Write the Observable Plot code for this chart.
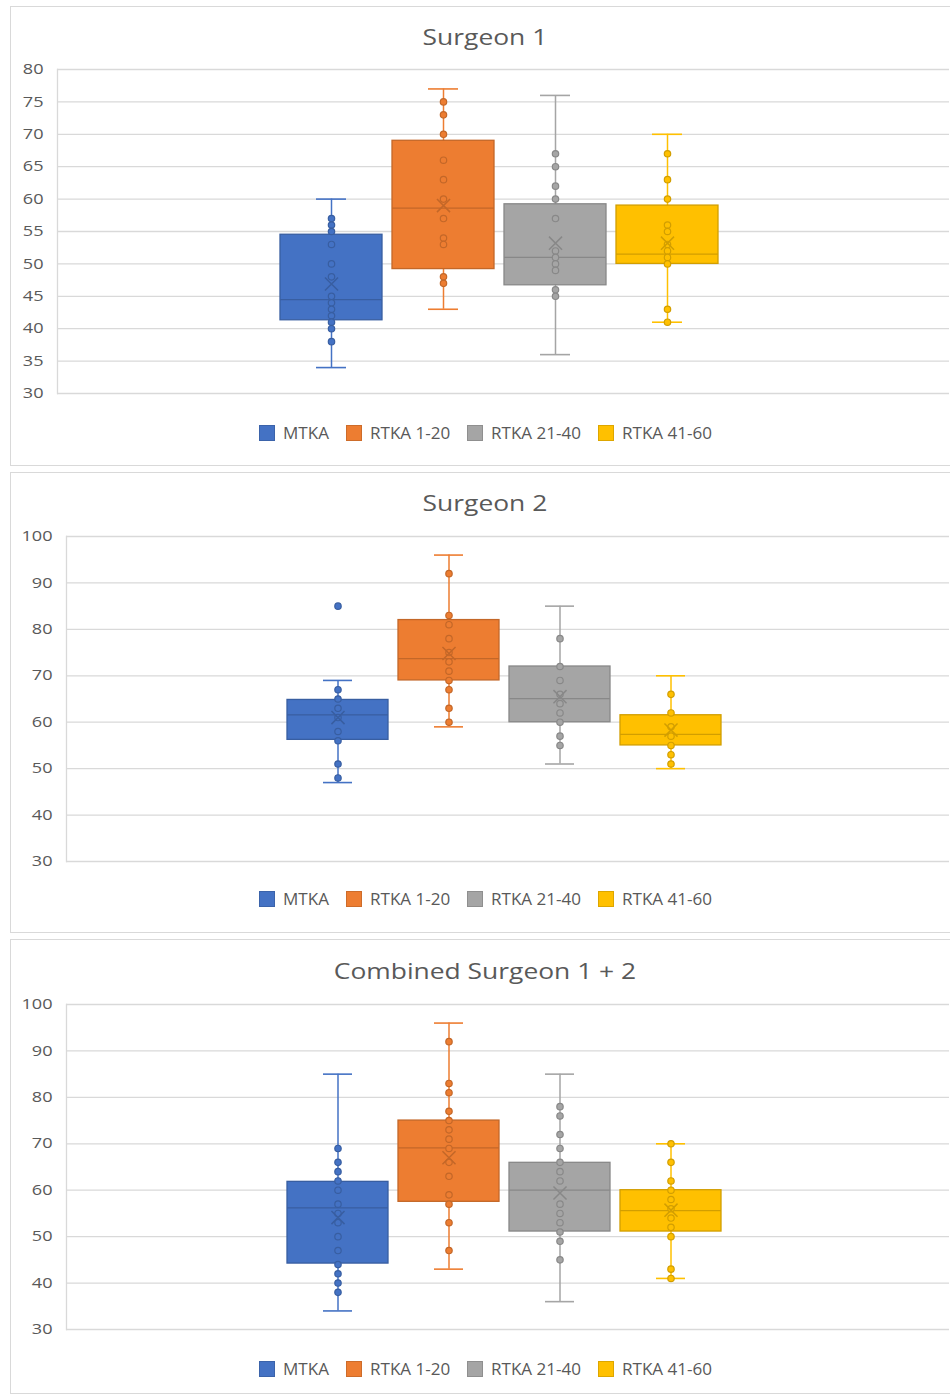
<!DOCTYPE html>
<html>
<head>
<meta charset="utf-8">
<script src="https://cdn.jsdelivr.net/npm/d3@7"></script>
<script src="https://cdn.jsdelivr.net/npm/@observablehq/plot@0.6"></script>
<style>
  html, body { margin: 0; padding: 0; }
  body { width: 950px; height: 1395px; overflow: hidden; background: #fff; position: relative;
         font-family: "Open Sans", "Noto Sans", sans-serif; color: #595959; }
  .border { position: absolute; left: 10px; width: 960px; border: 1.5px solid #d9d9d9; box-sizing: border-box; }
  .title { position: absolute; left: 0; width: 970px; text-align: center; font-size: 22px; line-height: 30px; }
  .title span { display: inline-block; transform: scaleX(1.2); }
  .chart { position: absolute; left: 11px; }
  .legend { position: absolute; left: 0; width: 971px; height: 20px; display: flex; justify-content: center;
            align-items: center; font-size: 15.5px; white-space: nowrap; }
  .legend .item { display: flex; align-items: center; margin-right: 17px; }
  .legend .item:last-child { margin-right: 0; }
  .legend .sw { width: 14px; height: 14px; border: 1px solid; margin-right: 8px; }
  .legend .tx { display: inline-block; }
  .legend .tx span { display: inline-block; transform: scaleX(1.1); transform-origin: 0 50%; }
</style>
</head>
<body>
<script>
// ---------- data ----------
const series = ["MTKA", "RTKA 1-20", "RTKA 21-40", "RTKA 41-60"];
const colors = ["#4472C4", "#ED7D31", "#A5A5A5", "#FFC000"];
const titles = ["Surgeon 1", "Surgeon 2", "Combined Surgeon 1 + 2"];

const s1Ticks = [30, 35, 40, 45, 50, 55, 60, 65, 70, 75, 80];
const s2Ticks = [30, 40, 50, 60, 70, 80, 90, 100];
const s3Ticks = [30, 40, 50, 60, 70, 80, 90, 100];

// Surgeon 1
const s1Min    = [34, 43, 36, 41];
const s1Q1     = [41.3, 49.2, 46.7, 50];
const s1Median = [44.5, 58.6, 51, 51.5];
const s1Q3     = [54.5, 69, 59.2, 59];
const s1Max    = [60, 77, 76, 70];
const s1Mean   = [46.9, 59.0, 53.2, 53.2];
const s1Points = [
  [57, 56, 55, 53, 50, 48, 45, 44, 43, 42, 41, 40, 38],
  [75, 73, 70, 66, 63, 60, 57, 54, 53, 48, 47],
  [67, 65, 62, 60, 57, 52, 51, 50, 49, 46, 45],
  [67, 63, 60, 56, 55, 53, 52, 51, 50, 43, 41]
];
const s1Outliers = [[], [], [], []];

// Surgeon 2
const s2Min    = [47, 59, 51, 50];
const s2Q1     = [56.2, 69, 60, 55];
const s2Median = [61.6, 73.7, 65.1, 57.4];
const s2Q3     = [64.8, 82, 72, 61.5];
const s2Max    = [69, 96, 85, 70];
const s2Mean   = [61, 74.8, 65.5, 58.3];
const s2Points = [
  [67, 65, 63, 61, 58, 56, 51, 48],
  [92, 83, 81, 78, 75, 73, 71, 69, 67, 63, 60],
  [78, 72, 69, 66, 64, 62, 60, 57, 55],
  [66, 62, 59, 57, 55, 53, 51]
];
const s2Outliers = [[85], [], [], []];

// Combined
const s3Min    = [34, 43, 36, 41];
const s3Q1     = [44.2, 57.5, 51.1, 51.1];
const s3Median = [56.2, 69.1, 60, 55.6];
const s3Q3     = [61.8, 75, 65.9, 60];
const s3Max    = [85, 96, 85, 70];
const s3Mean   = [54.1, 67, 59.4, 55.7];
const s3Points = [
  [69, 66, 64, 62, 60, 57, 55, 53, 50, 47, 44, 42, 40, 38],
  [92, 83, 81, 77, 75, 73, 71, 69, 66, 63, 59, 57, 53, 47],
  [78, 76, 72, 69, 66, 64, 62, 57, 55, 53, 51, 49, 45],
  [70, 66, 62, 60, 58, 56, 54, 52, 50, 43, 41]
];
const s3Outliers = [[], [], [], []];

// ---------- drawing ----------
function boxChart(cfg) {
  const rows = series.map((s, i) => ({
    s, min: cfg.min[i], q1: cfg.q1[i], median: cfg.median[i],
    q3: cfg.q3[i], max: cfg.max[i], mean: cfg.mean[i]
  }));
  const marks = [
    Plot.ruleY(cfg.ticks, {stroke: "#d9d9d9", strokeWidth: 1.3}),
    Plot.frame({anchor: "left", stroke: "#d9d9d9", strokeWidth: 1.3}),
    Plot.axisY(cfg.ticks, {tickSize: 0, tickPadding: 14, label: null})
  ];
  series.forEach((s, i) => {
    const c = colors[i];
    const dk = d3.color(c).darker(0.55).formatHex();
    const r = rows.filter(d => d.s === s);
    const pts = cfg.points[i].map(v => ({s, v}));
    const out = cfg.outliers[i].map(v => ({s, v}));
    marks.push(
      Plot.ruleX(r, {x: "s", y1: "min", y2: "max", stroke: c, strokeWidth: 1.5}),
      Plot.tickY(r, {x: "s", y: "min", stroke: c, strokeWidth: 1.6, insetLeft: 41, insetRight: 41}),
      Plot.tickY(r, {x: "s", y: "max", stroke: c, strokeWidth: 1.6, insetLeft: 41, insetRight: 41}),
      Plot.barY(r, {x: "s", y1: "q1", y2: "q3", fill: c, stroke: dk, strokeWidth: 1.3, insetLeft: 5, insetRight: 5}),
      Plot.tickY(r, {x: "s", y: "median", stroke: dk, strokeWidth: 1.3, insetLeft: 5, insetRight: 5}),
      Plot.dot(pts, {x: "s", y: "v", r: 3.2, fill: c, stroke: dk, strokeWidth: 1.2}),
      Plot.dot(out, {x: "s", y: "v", r: 3.2, fill: c, stroke: dk, strokeWidth: 1.2}),
      Plot.dot(r, {x: "s", y: "mean", symbol: "times", r: 6, stroke: dk, strokeWidth: 1.5})
    );
  });
  const svg = Plot.plot({
    width: 939, height: cfg.height,
    marginTop: 20, marginBottom: 20, marginLeft: cfg.marginLeft, marginRight: 1,
    x: {domain: series, paddingInner: 0, paddingOuter: 1.956, align: 0.492, axis: null},
    y: {domain: [30, cfg.ticks[cfg.ticks.length - 1]]},
    style: {fontFamily: '"Open Sans", "Noto Sans", sans-serif', fontSize: "14.5px", color: "#595959", background: "transparent"},
    marks
  });
  // widen tick labels like the reference
  svg.querySelectorAll('g[aria-label="y-axis tick label"] text').forEach(t => {
    t.setAttribute("transform", (t.getAttribute("transform") || "") + " scale(1.25,1)");
  });
  return svg;
}

function addBorder(top, height) {
  const d = document.createElement("div");
  d.className = "border"; d.style.top = top + "px"; d.style.height = height + "px";
  document.body.appendChild(d);
}
function addTitle(text, centerY) {
  const d = document.createElement("div");
  d.className = "title"; d.style.top = (centerY - 15) + "px";
  const s = document.createElement("span"); s.textContent = text; d.appendChild(s);
  document.body.appendChild(d);
}
const legendTexts = [];
function addLegend(centerY) {
  const d = document.createElement("div");
  d.className = "legend"; d.style.top = (centerY - 10) + "px";
  series.forEach((s, i) => {
    const item = document.createElement("span"); item.className = "item";
    const sw = document.createElement("span"); sw.className = "sw";
    sw.style.background = colors[i];
    sw.style.borderColor = d3.color(colors[i]).darker(0.4).formatHex();
    const tx = document.createElement("span"); tx.className = "tx";
    const inner = document.createElement("span"); inner.textContent = s;
    tx.appendChild(inner); item.appendChild(sw); item.appendChild(tx); d.appendChild(item);
    legendTexts.push([tx, inner]);
  });
  document.body.appendChild(d);
}
function addChart(svg, top) {
  const d = document.createElement("div");
  d.className = "chart"; d.style.top = top + "px";
  d.appendChild(svg);
  document.body.appendChild(d);
}

const panels = [
  {border: [6, 460], title: 36, svgTop: 49, legend: 432.5,
   cfg: {min: s1Min, q1: s1Q1, median: s1Median, q3: s1Q3, max: s1Max, mean: s1Mean,
         points: s1Points, outliers: s1Outliers, ticks: s1Ticks, marginLeft: 46, height: 364}},
  {border: [472, 461], title: 502, svgTop: 516, legend: 899,
   cfg: {min: s2Min, q1: s2Q1, median: s2Median, q3: s2Q3, max: s2Max, mean: s2Mean,
         points: s2Points, outliers: s2Outliers, ticks: s2Ticks, marginLeft: 55, height: 365}},
  {border: [939, 455], title: 970, svgTop: 984, legend: 1369,
   cfg: {min: s3Min, q1: s3Q1, median: s3Median, q3: s3Q3, max: s3Max, mean: s3Mean,
         points: s3Points, outliers: s3Outliers, ticks: s3Ticks, marginLeft: 55, height: 365}}
];

panels.forEach((p, k) => {
  addBorder(p.border[0], p.border[1]);
  addTitle(titles[k], p.title);
  addChart(boxChart(p.cfg), p.svgTop);
  addLegend(p.legend);
});

function fixLegend() {
  legendTexts.forEach(([tx, inner]) => {
    tx.style.width = (inner.offsetWidth * 1.1) + "px";
  });
}
fixLegend();
if (document.fonts && document.fonts.ready) document.fonts.ready.then(fixLegend);
</script>
</body>
</html>
